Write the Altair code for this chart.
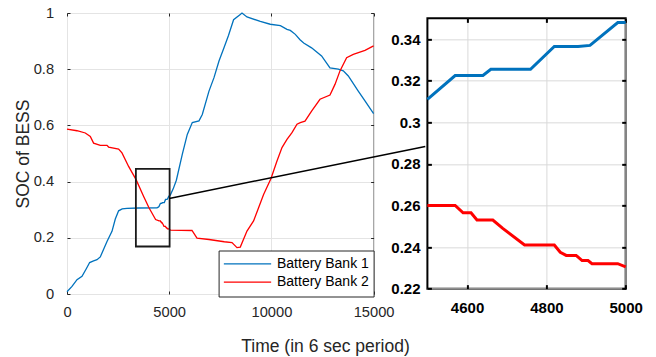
import altair as alt
import pandas as pd

FONT = "Liberation Sans"

series_names = ["Battery Bank 1", "Battery Bank 2"]
series_colors = ["#0072BD", "#FF0000"]

bank1_t = [0, 245, 489, 734, 944, 1108, 1300, 1468, 1629, 1957, 2201, 2363, 2525, 2700, 2935,
           3500, 4403, 4450, 4500, 4570, 4640, 4660, 4760, 4820, 4880, 4910, 4980, 5000, 5054,
           5200, 5350, 5640, 5885, 6130, 6457, 6619, 6946, 7191, 7436, 7680, 7900, 8150, 8478,
           8561, 8805, 9456, 9945, 10440, 10762, 10924, 11170, 11400, 11580, 11965, 12455,
           12866, 13272, 13517, 13762, 14250, 14578, 15000]
bank1_soc = [0.008, 0.027, 0.051, 0.063, 0.09, 0.112, 0.118, 0.122, 0.132, 0.187, 0.223, 0.267,
             0.296, 0.303, 0.305, 0.306, 0.307, 0.308, 0.311, 0.3225, 0.3225, 0.3255, 0.3255,
             0.3365, 0.3365, 0.337, 0.348, 0.348, 0.352, 0.375, 0.405, 0.497, 0.568, 0.61, 0.616,
             0.639, 0.722, 0.77, 0.829, 0.876, 0.92, 0.976, 0.995, 1.0, 0.986, 0.97, 0.96, 0.955,
             0.942, 0.938, 0.924, 0.905, 0.893, 0.876, 0.847, 0.805, 0.8, 0.794, 0.776, 0.722,
             0.687, 0.642]

bank2_t = [0, 489, 895, 1140, 1301, 1629, 1957, 2035, 2525, 2690, 3014, 3380, 3750, 4011, 4335,
           4500, 4570, 4590, 4610, 4625, 4665, 4690, 4745, 4820, 4835, 4850, 4875, 4890, 4905,
           4915, 4980, 5000, 5068, 6115, 6360, 6946, 7695, 8072, 8316, 8478, 8805, 9128, 9373,
           9618, 9980, 10273, 10518, 10762, 11007, 11252, 11413, 11643, 11966, 12377, 12866,
           13111, 13355, 13680, 14006, 14578, 15000]
bank2_soc = [0.587, 0.581, 0.573, 0.561, 0.537, 0.529, 0.529, 0.523, 0.516, 0.502, 0.454, 0.407,
             0.347, 0.307, 0.265, 0.26, 0.26, 0.2565, 0.2565, 0.253, 0.253, 0.249, 0.241, 0.241,
             0.2375, 0.236, 0.236, 0.2335, 0.2335, 0.232, 0.232, 0.2305, 0.227, 0.226, 0.199,
             0.194, 0.186, 0.183, 0.165, 0.167, 0.224, 0.26, 0.307, 0.354, 0.411, 0.473, 0.521,
             0.55, 0.574, 0.604, 0.61, 0.615, 0.651, 0.693, 0.708, 0.746, 0.794, 0.841, 0.853,
             0.867, 0.883]

# zoom box drawn on the main axes and the connector line towards the inset
box_t = [3370, 5020]
box_soc = [0.169, 0.445]
conn_t = [5000, 17528]
conn_soc = [0.340, 0.525]

main_x_ticks = [0, 5000, 10000, 15000]
main_y_ticks = [0, 0.2, 0.4, 0.6, 0.8, 1]
inset_x_ticks = [4600, 4800, 5000]
inset_y_ticks = [0.22, 0.24, 0.26, 0.28, 0.3, 0.32, 0.34]

df = pd.concat([
    pd.DataFrame({"t": bank1_t, "soc": bank1_soc, "series": series_names[0]}),
    pd.DataFrame({"t": bank2_t, "soc": bank2_soc, "series": series_names[1]}),
], ignore_index=True)
inset_df = df[(df.t >= 4500) & (df.t <= 5000)]
box_df = pd.DataFrame({"t": [box_t[0]], "t2": [box_t[1]], "soc": [box_soc[0]], "soc2": [box_soc[1]]})
conn_df = pd.DataFrame({"t": [conn_t[0]], "t2": [conn_t[1]], "soc": [conn_soc[0]], "soc2": [conn_soc[1]]})

GRAY = "#262626"
color_scale = alt.Scale(domain=series_names, range=series_colors)

mx = alt.Scale(domain=[0, 15000], nice=False)
my = alt.Scale(domain=[0, 1], nice=False)

main_lines = alt.Chart(df).mark_line(strokeWidth=1.3).encode(
    x=alt.X("t:Q", scale=mx, axis=alt.Axis(
        orient="bottom", values=main_x_ticks, format="d", offset=-3, tickSize=3,
        tickColor=GRAY, domain=False, grid=True, gridColor="#e4e4e4", labelFlush=False,
        labelOverlap=False, labelFont=FONT, labelFontSize=14.7, labelColor=GRAY,
        labelBaseline="alphabetic", labelPadding=22.5,
        title="Time (in 6 sec period)", titleFont=FONT, titleFontSize=17.5,
        titleFontWeight="normal", titleColor=GRAY, titleX=258, titleY=60,
        titleBaseline="alphabetic", titleAlign="center")),
    y=alt.Y("soc:Q", scale=my, axis=alt.Axis(
        orient="left", values=main_y_ticks, format="~g", offset=-3, tickSize=3,
        tickColor=GRAY, domain=False, grid=True, gridColor="#e4e4e4", labelFlush=False,
        labelOverlap=False, labelFont=FONT, labelFontSize=14.7, labelColor=GRAY,
        labelPadding=13.4,
        title="SOC of BESS", titleFont=FONT, titleFontSize=17.5, titleFontWeight="normal",
        titleColor=GRAY, titleAngle=270, titleX=-41.4, titleY=140.5,
        titleBaseline="alphabetic", titleAlign="center")),
    color=alt.Color("series:N", scale=color_scale, legend=alt.Legend(
        orient="none", legendX=151.6, legendY=237.5, title=None, symbolType="stroke",
        symbolSize=2237, symbolStrokeWidth=1.3, clipHeight=18, rowPadding=0.3, padding=4.4,
        labelOffset=5, labelFont=FONT, labelFontSize=14, labelColor="black", labelLimit=300,
        fillColor="white", strokeColor=GRAY, cornerRadius=0)),
)

main_box = alt.Chart(box_df).mark_rect(fillOpacity=0, stroke="#1a1a1a", strokeWidth=1.8).encode(
    x=alt.X("t:Q", scale=mx, axis=alt.Axis(
        orient="top", values=main_x_ticks, labels=False, grid=False, domain=False,
        offset=-3, tickSize=3, tickColor=GRAY, title=None)),
    x2="t2:Q",
    y=alt.Y("soc:Q", scale=my, axis=alt.Axis(
        orient="right", values=main_y_ticks, labels=False, grid=False, domain=False,
        offset=-3, tickSize=3, tickColor=GRAY, title=None)),
    y2="soc2:Q",
)

main_conn = alt.Chart(conn_df).mark_rule(color="black", strokeWidth=1.5).encode(
    x=alt.X("t:Q", scale=mx, axis=None),
    x2="t2:Q",
    y=alt.Y("soc:Q", scale=my, axis=None),
    y2="soc2:Q",
)

main = alt.layer(main_lines, main_box, main_conn).resolve_axis(
    x="independent", y="independent"
).properties(width=306.6, height=281,
             view=alt.ViewBackground(stroke=GRAY, strokeWidth=1))

ix = alt.Scale(domain=[4500, 5000], nice=False)
iy = alt.Scale(domain=[0.22, 0.35], nice=False)

inset_lines = alt.Chart(inset_df).mark_line(strokeWidth=3).encode(
    x=alt.X("t:Q", scale=ix, axis=alt.Axis(
        orient="bottom", values=inset_x_ticks, format="d", offset=-4, tickSize=4,
        tickWidth=2, tickColor="black", domain=False, grid=True, gridColor="#d9d9d9",
        labelFlush=False, labelOverlap=False, labelFont=FONT, labelFontSize=15,
        labelFontWeight="bold", labelColor="black", labelBaseline="alphabetic",
        labelPadding=23.5, title=None)),
    y=alt.Y("soc:Q", scale=iy, axis=alt.Axis(
        orient="left", values=inset_y_ticks, format="~g", offset=-4, tickSize=4,
        tickWidth=2, tickColor="black", domain=False, grid=True, gridColor="#d9d9d9",
        labelFlush=False, labelOverlap=False, labelFont=FONT, labelFontSize=15,
        labelFontWeight="bold", labelColor="black", labelPadding=7.4, title=None)),
    color=alt.Color("series:N", scale=color_scale, legend=None),
)

inset_ticks = alt.Chart(inset_df).mark_point(opacity=0).encode(
    x=alt.X("t:Q", scale=ix, axis=alt.Axis(
        orient="top", values=inset_x_ticks, labels=False, grid=False, domain=False,
        offset=-4, tickSize=4, tickWidth=2, tickColor="black", title=None)),
    y=alt.Y("soc:Q", scale=iy, axis=alt.Axis(
        orient="right", values=inset_y_ticks, labels=False, grid=False, domain=False,
        offset=-4, tickSize=4, tickWidth=2, tickColor="black", title=None)),
)

inset = alt.layer(inset_lines, inset_ticks).resolve_axis(
    x="independent", y="independent"
).properties(width=198.3, height=270.3,
             view=alt.ViewBackground(stroke="black", strokeWidth=2))

chart = alt.hconcat(main, inset, spacing=53.4, bounds="flush", center=True).resolve_legend(
    color="independent"
).properties(
    padding={"left": 14, "top": 4, "right": 5, "bottom": 3},
    background="white",
)

chart.save("out.html", embed_options={"renderer": "svg", "actions": False})
